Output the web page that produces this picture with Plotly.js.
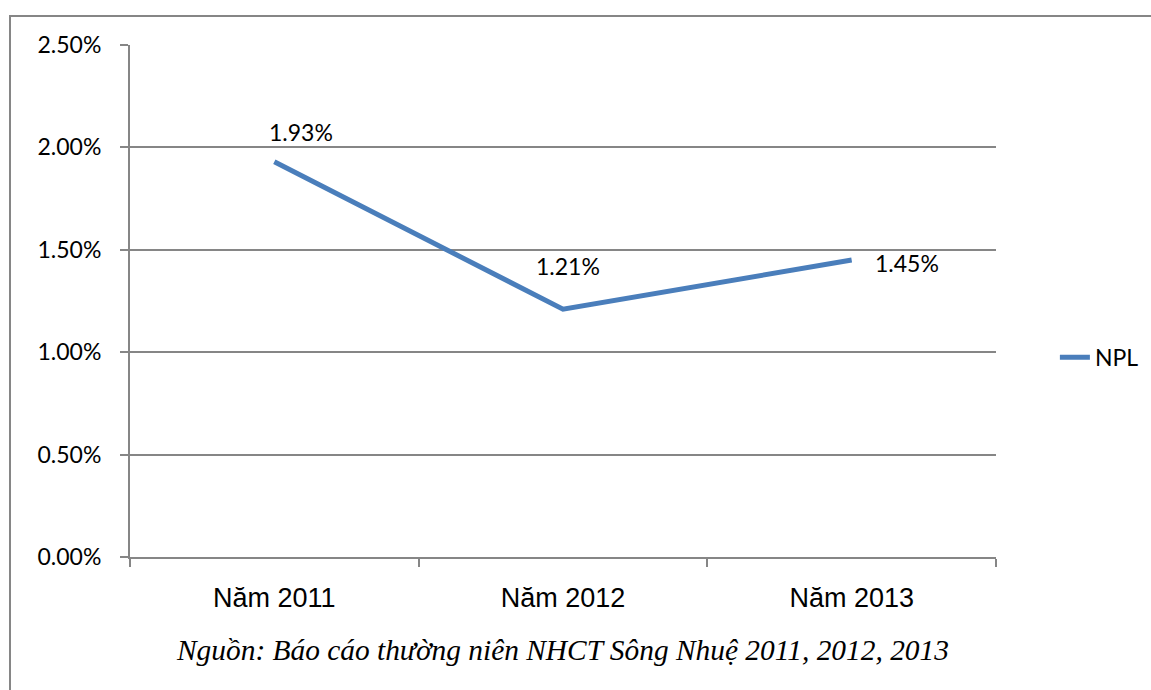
<!DOCTYPE html>
<html>
<head>
<meta charset="utf-8">
<script src="https://cdn.plot.ly/plotly-3.0.1.min.js"></script>
<style>html,body{margin:0;padding:0;background:#fff;overflow:hidden}</style>
</head>
<body>
<div id="chart" style="width:1151px;height:690px"></div>
<script>
const categories = ["Năm 2011", "Năm 2012", "Năm 2013"];
const nplValues = [0.0193, 0.0121, 0.0145];
const labelTexts = ["1.93%", "1.21%", "1.45%"];
const yTicks = [0, 0.005, 0.01, 0.015, 0.02, 0.025];
const yTickLabels = ["0.00%", "0.50%", "1.00%", "1.50%", "2.00%", "2.50%"];
const seriesName = "NPL";
const caption = "Nguồn: Báo cáo thường niên NHCT Sông Nhuệ 2011, 2012, 2013";

const labelShifts = [[27, 30], [5, 43], [55, -3]];
const labelFont = {family: "Lato, 'Open Sans', sans-serif", size: 23, color: "#000"};

const trace = {
  x: categories, y: nplValues, type: "scatter", mode: "lines", name: seriesName,
  line: {color: "#4A7EBB", width: 5},
  hoverinfo: "skip"
};

const annotations = categories.map((c, i) => ({
  x: c, y: nplValues[i], xref: "x", yref: "y", text: labelTexts[i],
  showarrow: false, xshift: labelShifts[i][0], yshift: labelShifts[i][1],
  font: labelFont
}));
annotations.push({
  xref: "paper", yref: "paper", x: 0.499, y: -0.182, xanchor: "center", yanchor: "middle",
  text: caption, showarrow: false,
  font: {family: "'Liberation Serif', 'Times New Roman', serif", size: 29.4, style: "italic", color: "#000"}
});

const layout = {
  width: 1151, height: 690,
  margin: {l: 130, r: 155, t: 45, b: 133, autoexpand: false},
  paper_bgcolor: "#fff", plot_bgcolor: "#fff",
  showlegend: true,
  legend: {x: 1.068, y: 0.39, xanchor: "left", yanchor: "middle", bgcolor: "rgba(0,0,0,0)",
    font: {family: "Lato, 'Open Sans', sans-serif", size: 23, color: "#000"}},
  xaxis: {
    type: "category", range: [-0.5, 2.5], tickson: "boundaries",
    ticks: "outside", ticklen: 8, tickwidth: 2, tickcolor: "#868686",
    showline: true, linecolor: "#868686", linewidth: 2,
    showgrid: false, zeroline: false, fixedrange: true,
    tickfont: {family: "'Liberation Sans', Arial, sans-serif", size: 27, color: "#000"},
    ticklabelstandoff: 16
  },
  yaxis: {
    range: [0, 0.025], tickvals: yTicks, ticktext: yTickLabels,
    ticks: "outside", ticklen: 8, tickwidth: 2, tickcolor: "#868686",
    showline: true, linecolor: "#868686", linewidth: 2,
    showgrid: true, gridcolor: "#868686", gridwidth: 2, zeroline: false, fixedrange: true,
    tickfont: {family: "Lato, 'Open Sans', sans-serif", size: 23, color: "#000"},
    ticklabelstandoff: 14
  },
  shapes: [{
    type: "rect", xref: "paper", yref: "paper",
    x0: (10 - 130) / 866, x1: 1.5, y0: -0.5, y1: (557 - 16) / 512,
    line: {color: "#868686", width: 2}, fillcolor: "rgba(0,0,0,0)", layer: "below"
  }],
  annotations: annotations
};

Plotly.newPlot("chart", [trace], layout, {displayModeBar: false, staticPlot: true});
</script>
</body>
</html>
